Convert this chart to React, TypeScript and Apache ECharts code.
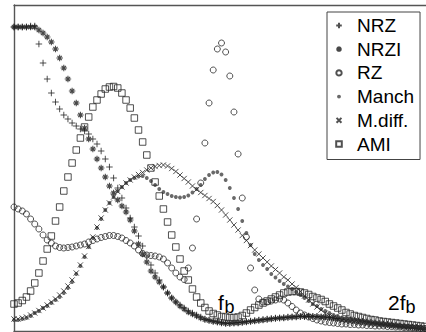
import React, { useEffect, useRef } from 'react';
import * as echarts from 'echarts';

// normalised frequency f / fb
const freq = [
  0, 0.02, 0.04, 0.06, 0.08, 0.1, 0.12, 0.14, 0.16, 0.18,
  0.2, 0.22, 0.24, 0.26, 0.28, 0.3, 0.32, 0.34, 0.36, 0.38,
  0.4, 0.42, 0.44, 0.46, 0.48, 0.5, 0.52, 0.54, 0.56, 0.58,
  0.6, 0.62, 0.64, 0.66, 0.68, 0.7, 0.72, 0.74, 0.76, 0.78,
  0.8, 0.82, 0.84, 0.86, 0.88, 0.9, 0.92, 0.94, 0.96, 0.98,
  1, 1.02, 1.04, 1.06, 1.08, 1.1, 1.12, 1.14, 1.16, 1.18,
  1.2, 1.22, 1.24, 1.26, 1.28, 1.3, 1.32, 1.34, 1.36, 1.38,
  1.4, 1.42, 1.44, 1.46, 1.48, 1.5, 1.52, 1.54, 1.56, 1.58,
  1.6, 1.62, 1.64, 1.66, 1.68, 1.7, 1.72, 1.74, 1.76, 1.78,
  1.8, 1.82, 1.84, 1.86, 1.88, 1.9, 1.92, 1.94, 1.96, 1.98,
];

const nrz = [
  304, 304, 304, 304, 305, 305, 287, 268, 252, 238,
  229, 222, 216, 212, 208, 205, 202, 200, 197, 192,
  187, 180, 172, 164, 153, 143, 133, 123, 113, 104,
  95, 85, 75, 66, 58, 51, 44, 38, 33, 29,
  26, 23, 20, 18, 16, 14, 12, 11, 10, 9,
  8.5, 8, 8, 8, 8.5, 9, 9.5, 10, 10.5, 11,
  11.5, 12, 12.5, 13, 13, 13.5, 14, 14, 14.5, 14.5,
  14.5, 14.5, 14.5, 14.5, 14, 14, 13.5, 13, 12.5, 12,
  11.5, 11, 10.5, 10, 9.5, 9, 8.5, 8, 7.5, 7,
  6.5, 6, 5.5, 5, 4.5, 4, 3.5, 3, 3, 2.5,
];

const nrzi = [
  304, 304, 304, 304, 304, 304, 301, 298, 294, 289,
  282, 273, 263, 252, 240, 228, 216, 203, 192, 182,
  172, 163, 154, 145, 138, 131, 125, 119, 111, 100,
  87, 77, 69, 60, 54, 49, 44, 38, 33, 29,
  25, 22, 19, 17, 15, 13, 11.5, 10.5, 9.5, 9,
  8, 7.5, 7.5, 8, 8, 8.5, 9, 9.5, 10, 10.5,
  11, 11.5, 12, 12.5, 13, 13, 13.5, 14, 14, 14.5,
  14.5, 15, 14.5, 14.5, 14, 14, 13.5, 13, 12.5, 12,
  11.5, 11, 10.5, 10, 9.5, 9, 8.5, 8, 7.5, 7,
  6.5, 6, 5.5, 5, 4.5, 4, 4, 3.5, 3, 2.5,
];

const rz = [
  124, 122, 120, 117, 112, 107, 102, 96, 91, 88,
  85, 83.5, 83, 83.5, 84, 85, 86, 87, 89, 90.5,
  92, 93.5, 94.5, 95.5, 95.5, 94.5, 93, 90.5, 88, 85,
  81, 77.5, 76, 75.5, 75, 74, 72, 68, 63, 58,
  54, 51.5, 63, 83, 112, 148, 188, 228, 261, 282,
  288, 279, 255, 219, 177, 133, 94, 63, 41, 32,
  29, 29, 30, 31, 32, 31, 28, 24.5, 21, 18,
  16, 14, 12.5, 11, 10, 9, 8.5, 8, 7.5, 7,
  7, 6.5, 6.5, 6, 6, 5.5, 5.5, 5, 5, 5,
  4.5, 4.5, 4, 4, 3.5, 3.5, 3, 3, 2.5, 2.5,
];

const manch = [
  11, 11, 12, 13, 15, 18, 20, 23, 25, 28,
  31, 34, 38, 43, 49, 57, 65, 74, 84, 93,
  103, 112, 121, 128, 134, 140, 144, 148, 151, 153,
  154.5, 155, 153, 150, 146, 142, 139, 137, 135, 134,
  133.5, 134, 135.5, 138.5, 142, 146, 152, 156, 158.5, 159,
  156.5, 151, 143, 133, 122, 110, 98, 86, 77, 71,
  66, 62, 57, 53.5, 50, 47, 44.5, 42, 39, 36,
  33, 30, 27, 25, 22, 20, 18, 16, 15, 13,
  12, 11, 10, 9.5, 9, 8.5, 8, 7.5, 7, 6.5,
  6, 5.5, 5, 4.5, 4, 4, 3.5, 3, 3, 2.5,
];

const mdiff = [
  12, 12, 13, 14, 16, 18, 20.5, 23, 26, 29,
  32, 36, 40, 45, 51, 58, 66, 75, 84.5, 94,
  104, 113, 121, 128, 134, 139.5, 144, 148, 151, 154,
  156.5, 158.5, 161, 163, 164.5, 165.5, 166, 165, 162.5, 159.5,
  156, 152.5, 149, 145, 141.5, 138.5, 135.5, 132.5, 129.5, 125.5,
  121, 116, 111, 106, 101, 95.5, 90.5, 85.5, 81, 77,
  73, 69, 65, 61.5, 58, 54, 51, 47, 43.5, 39.5,
  35, 31, 27, 24, 21, 18, 15.5, 13.5, 12, 11,
  10, 9.5, 9, 8.5, 8, 7.5, 7, 6.5, 6, 6,
  5.5, 5, 5, 4.5, 4, 4, 3.5, 3, 3, 2.5,
];

const ami = [
  27, 28, 30.5, 34, 40, 48, 58, 70, 82, 95,
  110, 124, 140, 154, 168, 181, 193, 204, 214, 224,
  231, 237, 242, 244, 244.5, 243, 238, 231, 223, 213,
  201, 189, 176, 163, 149, 135, 122, 109, 96, 84,
  72, 60, 51, 42, 34, 28, 23.5, 20, 17.5, 16,
  14.5, 14, 13.5, 13.5, 14, 15.5, 18, 21, 23.5, 26,
  28, 30, 32, 34, 36, 38, 39, 39.5, 39.5, 39,
  38, 36.5, 34.5, 33, 31.5, 29.5, 27, 25, 23, 21,
  18.5, 17, 15.5, 14.5, 13.5, 12.5, 11.5, 11, 10, 9.5,
  9, 8.5, 8, 7.5, 7, 6.5, 6, 5.5, 5, 4.5,
];

const seriesNames = ['NRZ', 'NRZI', 'RZ', 'Manch', 'M.diff.', 'AMI'];

const PLUS = 'path://M5,0L5,10M0,5L10,5';
const STAR = 'path://M5,0L5,10M0,5L10,5M1.6,1.6L8.4,8.4M8.4,1.6L1.6,8.4';
const CROSS = 'path://M0,0M10,10M1.5,1.5L8.5,8.5M8.5,1.5L1.5,8.5';
const PLUS_ICON = 'path://M0,0M10,10M5,1L5,9M1,5L9,5';
const STAR_ICON = 'path://M0,0M10,10M5,1.2L5,8.8M1.2,5L8.8,5M2.3,2.3L7.7,7.7M7.7,2.3L2.3,7.7';
const DOT_ICON = 'path://M0,0M10,10M2.2,5A2.8,2.8,0,1,0,7.8,5A2.8,2.8,0,1,0,2.2,5Z';
const SMALL_CIRCLE_ICON = 'path://M0,0M10,10M1.2,5A3.8,3.8,0,1,0,8.8,5A3.8,3.8,0,1,0,1.2,5Z';
const SMALL_RECT_ICON = 'path://M0,0M10,10M1,1L9,1L9,9L1,9Z';

const FONT = '"Liberation Sans", Arial, Helvetica, sans-serif';

export default function App() {
  const ref = useRef<HTMLDivElement>(null);

  useEffect(() => {
    if (!ref.current) return;
    const chart = echarts.init(ref.current, null, { renderer: 'svg' });

    const pts = (vals: number[]) => freq.map((f, i) => [f, vals[i]]);
    const dark = '#262626';
    const frame = { show: true, onZero: false, lineStyle: { color: '#555', width: 1.4 } };

    const option: any = {
      animation: false,
      backgroundColor: '#fff',
      grid: { left: 14, right: 0, top: 5, bottom: 1, containLabel: false },
      xAxis: [
        {
          type: 'value', min: 0, max: 1.9855, position: 'bottom', axisLine: frame,
          axisTick: { show: false }, axisLabel: { show: false }, splitLine: { show: false },
        },
        {
          type: 'value', min: 0, max: 1.9855, position: 'top', axisLine: frame,
          axisTick: { show: false }, axisLabel: { show: false }, splitLine: { show: false },
        },
      ],
      yAxis: {
        type: 'value', min: 0, max: 326, position: 'left', axisLine: frame,
        axisTick: { show: false }, axisLabel: { show: false }, splitLine: { show: false },
      },
      legend: {
        orient: 'vertical', left: 327, top: 12,
        padding: [4, 6, 6, 7.5],
        itemGap: 4.7, itemWidth: 7, itemHeight: 7,
        backgroundColor: '#fff', borderColor: '#444', borderWidth: 1, borderRadius: 0,
        selectedMode: false,
        textStyle: { fontSize: 19, fontFamily: FONT, color: '#000', padding: [0, 0, 0, 9.5] },
        data: [
          { name: 'NRZ', icon: PLUS_ICON },
          { name: 'NRZI', icon: STAR_ICON },
          { name: 'RZ', icon: SMALL_CIRCLE_ICON },
          { name: 'Manch', icon: DOT_ICON },
          { name: 'M.diff.' },
          { name: 'AMI', icon: SMALL_RECT_ICON },
        ],
      },
      series: [
        {
          type: 'scatter', name: seriesNames[0], data: pts(nrz), symbol: PLUS, symbolSize: 6.5,
          itemStyle: { color: 'transparent', borderColor: dark, borderWidth: 1 },
        },
        {
          type: 'scatter', name: seriesNames[1], data: pts(nrzi), symbol: STAR, symbolSize: 6.5,
          itemStyle: { color: 'transparent', borderColor: '#1a1a1a', borderWidth: 1.1 },
        },
        {
          type: 'scatter', name: seriesNames[2], data: pts(rz), symbol: 'circle', symbolSize: 6,
          itemStyle: { color: 'transparent', borderColor: dark, borderWidth: 1 },
        },
        {
          type: 'scatter', name: seriesNames[3], data: pts(manch), symbol: 'circle', symbolSize: 3.8,
          itemStyle: { color: '#444', borderWidth: 0 },
        },
        {
          type: 'scatter', name: seriesNames[4], data: pts(mdiff), symbol: CROSS, symbolSize: 7.5,
          itemStyle: { color: 'transparent', borderColor: dark, borderWidth: 1 },
        },
        {
          type: 'scatter', name: seriesNames[5], data: pts(ami), symbol: 'rect', symbolSize: 6.5,
          itemStyle: { color: 'transparent', borderColor: dark, borderWidth: 1 },
        },
      ],
      graphic: [
        { type: 'text', x: 218, y: 302, silent: true,
          style: { text: 'f', fontSize: 21, fontFamily: FONT, fill: '#000', verticalAlign: 'middle', textVerticalAlign: 'middle' } },
        { type: 'text', x: 224.5, y: 307, silent: true,
          style: { text: 'b', fontSize: 18, fontFamily: FONT, fill: '#000', verticalAlign: 'middle', textVerticalAlign: 'middle' } },
        { type: 'text', x: 388, y: 302, silent: true,
          style: { text: '2f', fontSize: 21, fontFamily: FONT, fill: '#000', verticalAlign: 'middle', textVerticalAlign: 'middle' } },
        { type: 'text', x: 405.5, y: 307, silent: true,
          style: { text: 'b', fontSize: 18, fontFamily: FONT, fill: '#000', verticalAlign: 'middle', textVerticalAlign: 'middle' } },
      ],
    };

    chart.setOption(option);
    return () => chart.dispose();
  }, []);

  return (
    <div
      ref={ref}
      style={{ position: 'absolute', left: 0, top: 0, width: 426, height: 332, background: '#fff' }}
    />
  );
}
